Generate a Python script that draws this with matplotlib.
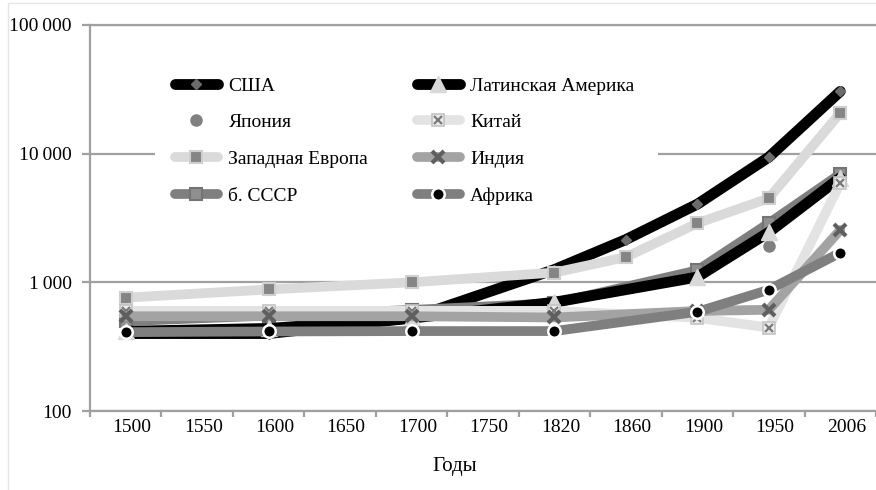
import numpy as np
import matplotlib
matplotlib.use("Agg")
import matplotlib.pyplot as plt
from matplotlib.patches import Rectangle
from matplotlib.legend_handler import HandlerTuple
import matplotlib.transforms as mtransforms

plt.rcParams['font.family'] = ['Liberation Serif', 'DejaVu Serif']

nan = np.nan
years = ['1500', '1550', '1600', '1650', '1700', '1750', '1820', '1860', '1900', '1950', '2006']

usa = [400, nan, 400, nan, 527, nan, 1257, 2150, 4050, 9400, 30500]
japan = [nan, nan, nan, nan, nan, nan, nan, nan, nan, 1900, nan]
w_europe = [760, nan, 880, nan, 1000, nan, 1190, 1570, 2880, 4500, 20700]
ussr = [499, nan, 552, nan, 610, nan, 688, nan, 1240, 2880, 6950]
lat_am = [416, nan, 438, nan, 527, nan, 700, nan, 1100, 2450, 6500]
china = [600, nan, 600, nan, 600, nan, 600, nan, 530, 445, 5900]
india = [545, nan, 545, nan, 545, nan, 533, nan, 599, 612, 2550]
africa = [410, nan, 415, nan, 418, nan, 418, nan, 590, 875, 1700]

yticks = [100, 1000, 10000, 100000]
ylabels = ['100', '1\u2009000', '10\u2009000', '100\u2009000']

fig = plt.figure(figsize=(8.76, 4.90), dpi=100)
W, H = 876, 490
ax = fig.add_axes([90 / W, (490 - 411) / H, (876 - 90) / W, (411 - 25) / H])


def draw(vals, **kw):
    v = np.array(vals, dtype=float)
    idx = np.where(~np.isnan(v))[0]
    return ax.plot(idx, v[idx], solid_capstyle='round', solid_joinstyle='round', **kw)[0]


lw = 7
h_usa = draw(usa, color='black', lw=lw + 0.8, marker='D', ms=5, mfc='#6b6b6b', mec='#6b6b6b')
h_jap = draw(japan, color='#808080', lw=0, marker='o', ms=8, mfc='#808080', mec='#808080')
h_we = draw(w_europe, color='#dadada', lw=lw, marker='s', ms=9, mfc='#858585', mec='#cfcfcf', mew=1.5)
h_ussr = draw(ussr, color='#7f7f7f', lw=lw, marker='s', ms=9, mfc='#8f8f8f', mec='#747474', mew=1.5)
h_lat = draw(lat_am, color='black', lw=lw + 0.8, marker='^', ms=11, mfc='#d9d9d9', mec='#d9d9d9')
h_chi = draw(china, color='#e3e3e3', lw=lw, marker='s', ms=9, mfc='#ececec', mec='#c4c4c4', mew=1.2)
h_chx = draw(china, color='none', lw=0, marker='x', ms=6, mec='#7a7a7a', mew=1.6)
h_ind = draw(india, color='#a3a3a3', lw=lw, marker='x', ms=9, mec='#5f5f5f', mew=3)
h_afr = draw(africa, color='#7f7f7f', lw=lw, marker='o', ms=9, mfc='black', mec='white', mew=1.8)

ax.set_yscale('log')
ax.set_ylim(100, 100000)
ax.set_xlim(-0.5, -0.5 + 786 / 72)
ax.set_yticks(yticks)
ax.set_yticklabels(ylabels)
ax.yaxis.set_minor_locator(matplotlib.ticker.NullLocator())
ax.set_xticks(range(len(years)))
ax.set_xticklabels(years)
ax.set_xticks(np.arange(-0.5, len(years), 1), minor=True)

gc = '#a0a0a0'
ax.grid(axis='y', color=gc, lw=1.6)
ax.set_axisbelow(True)
ax.spines['right'].set_visible(False)
for s in ['left', 'bottom', 'top']:
    ax.spines[s].set_color(gc)
    ax.spines[s].set_linewidth(1.6)
ax.tick_params(axis='y', which='major', length=6, width=1.6, color=gc, labelsize=14, pad=7)
ax.tick_params(axis='x', which='major', length=0, labelsize=14, pad=6)
ax.tick_params(axis='x', which='minor', length=4, width=1.6, color=gc)
off = mtransforms.ScaledTranslation(6 / 100, 0, fig.dpi_scale_trans)
for lab in ax.get_xticklabels():
    lab.set_transform(lab.get_transform() + off)

# white area behind the legend, hides the 10 000 gridline
ax.add_patch(Rectangle(((155 - 90) / 786, (411 - 220) / 386), 503 / 786, 165 / 386,
                       transform=ax.transAxes, facecolor='white', edgecolor='none', zorder=1))

leg_h = [h_usa, h_jap, h_we, h_ussr, h_lat, (h_chi, h_chx), h_ind, h_afr]
leg_l = ['США', 'Япония', 'Западная Европа', 'б. СССР',
         'Латинская Америка', 'Китай', 'Индия', 'Африка']
leg = ax.legend(leg_h, leg_l, ncol=2, loc='upper left', bbox_to_anchor=(175 / W, 1 - 77 / H),
                bbox_transform=fig.transFigure, frameon=False, fontsize=14, borderpad=0,
                borderaxespad=0, handlelength=2.2, handletextpad=0.55, labelspacing=0.98,
                columnspacing=2.5, numpoints=1, handler_map={tuple: HandlerTuple(ndivide=1)})

fig.text(455 / W, 1 - 466 / H, 'Годы', ha='center', va='center', fontsize=15)

fig.add_artist(Rectangle((8 / W, -0.1), 1.1, 1 - 3 / H + 0.1, transform=fig.transFigure,
                         facecolor='none', edgecolor='#e6e6e6', lw=1))

fig.savefig('out.png', dpi=100)
